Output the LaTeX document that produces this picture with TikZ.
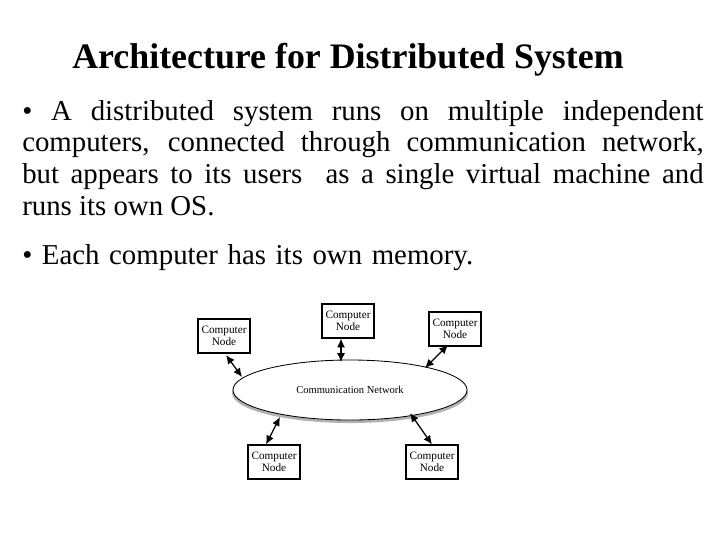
\documentclass[tikz,border=0pt]{standalone}
\usepackage{fontspec}
\setmainfont{Liberation Serif}
\usetikzlibrary{shapes.geometric,arrows.meta}

\tikzset{
    compnode/.style={draw, line width=0.8pt, minimum width=1.3cm, minimum height=0.85cm,
        align=center, font=\fontsize{8}{8.5}\selectfont, inner sep=1pt},
    link/.style={line width=0.9pt, {Latex[length=2.2mm,width=2mm]}-{Latex[length=2.2mm,width=2mm]}},
    body/.style={anchor=north west, text width=17.03cm, align=justify, inner sep=0pt,
        font=\fontsize{20.5}{22.5}\selectfont}
}

\begin{document}
\begin{tikzpicture}[x=0.025cm, y=-0.025cm]

    % marco
    \useasboundingbox (0,0) rectangle (720,540);

    % titulo
    \node[font=\fontsize{25.5}{28}\selectfont\bfseries] (titulo) at (348,60) {Architecture for Distributed System};

    % texto
    \node[body] (punto1) at (22,100) {\textbullet{} A distributed system runs on multiple independent\linebreak computers, connected through communication network,\linebreak but appears to its users\ \ as a single virtual machine and\linebreak runs its own OS.};
    \node[body, text width=14cm, align=left] (punto2) at (22,244) {\textbullet{} Each computer has its own memory.};

    % red
    \fill[gray!60] (350,393) ellipse (118 and 30);
    \node[draw, ellipse, fill=white, line width=0.6pt, minimum width=5.85cm, minimum height=1.5cm,
        font=\fontsize{7.5}{8}\selectfont] (red) at (350,390) {Communication Network};

    % nodos
    \node[compnode] (nodoA) at (224,336) {Computer\\Node};
    \node[compnode] (nodoB) at (348,321) {Computer\\Node};
    \node[compnode] (nodoC) at (455,329) {Computer\\Node};
    \node[compnode] (nodoD) at (274,462) {Computer\\Node};
    \node[compnode] (nodoE) at (432,462) {Computer\\Node};

    % puntos sobre la red
    \coordinate (pA) at (242,377);
    \coordinate (pB) at (341,362);
    \coordinate (pC) at (425,368);
    \coordinate (pD) at (280,417);
    \coordinate (pE) at (410,413);

    % enlaces
    \draw[link] (226,355) -- (pA);
    \draw[link] (nodoB.south -| pB) -- (pB);
    \draw[link] (448,345) -- (pC);
    \draw[link] (nodoD.north -| 266,0) -- (pD);
    \draw[link] (nodoE.north) -- (pE);

\end{tikzpicture}
\end{document}
